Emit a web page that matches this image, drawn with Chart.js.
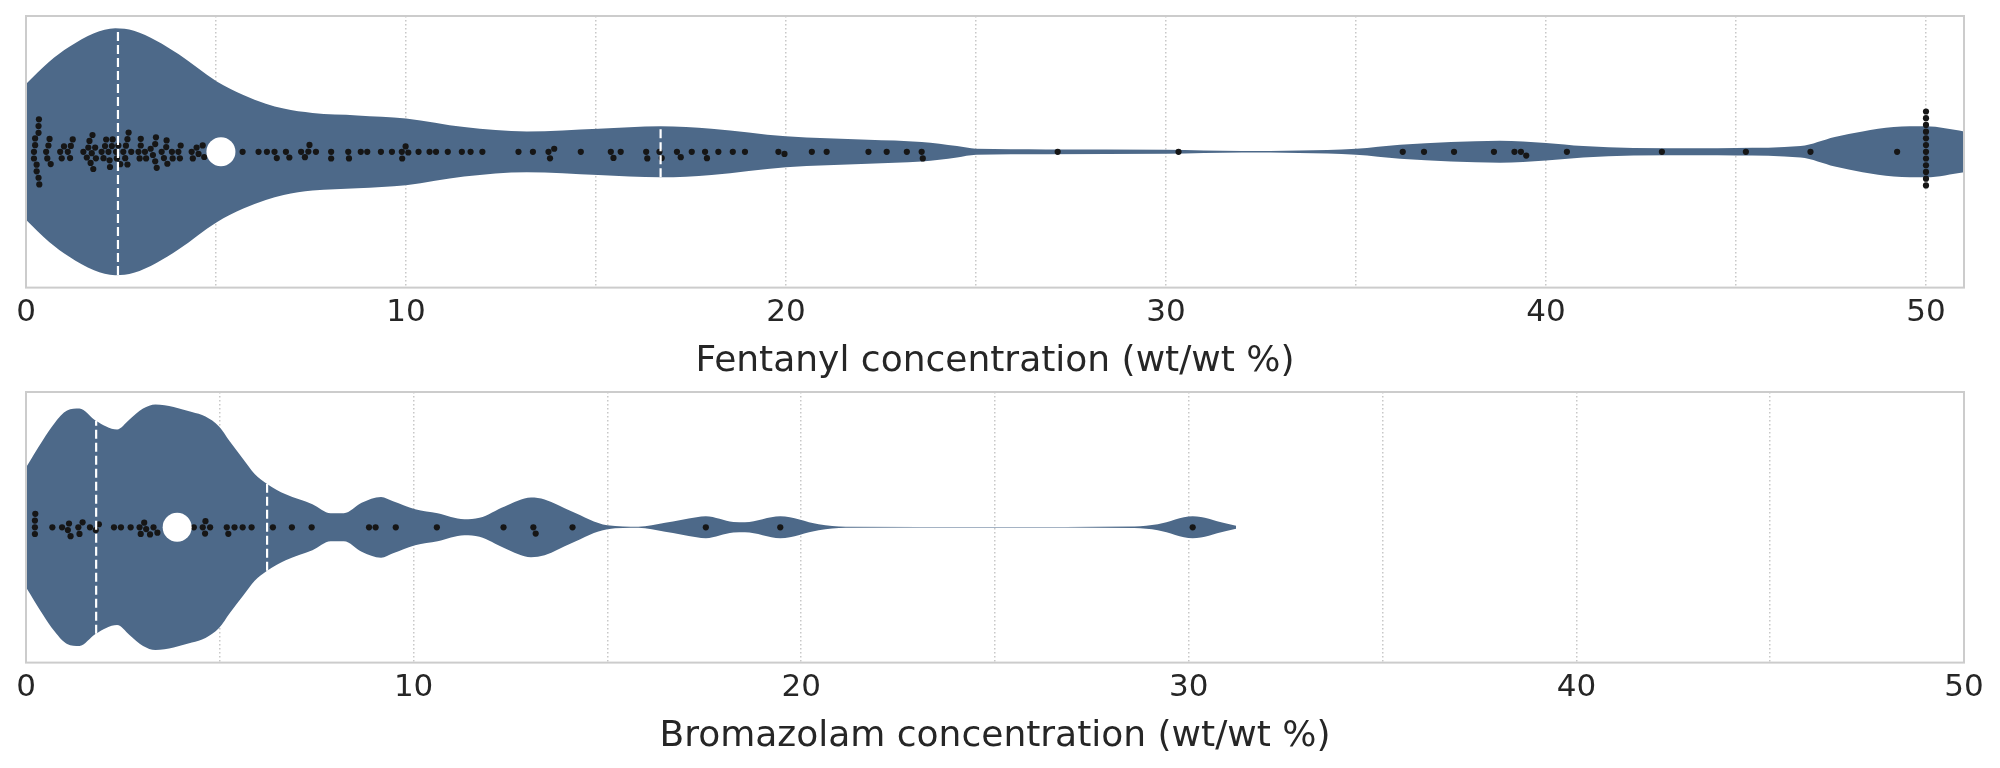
<!DOCTYPE html>
<html>
<head>
<meta charset="utf-8">
<script src="https://cdn.jsdelivr.net/npm/chart.js@4.4.1/dist/chart.umd.min.js"></script>
<style>
  html, body { margin: 0; padding: 0; background: #fff; }
  canvas { display: block; }
</style>
</head>
<body>
<canvas id="fentanylChart" width="2000" height="387"></canvas>
<canvas id="bromazolamChart" width="2000" height="375"></canvas>
<script>
// Axis ticks (grid every 5, labels every 10)
const gridTicks = [0, 5, 10, 15, 20, 25, 30, 35, 40, 45, 50];
const tickLabels = [0, 10, 20, 30, 40, 50];

// Fentanyl samples (wt/wt %)
const fentanylValues = [
    0.21, 0.21, 0.24, 0.24, 0.28, 0.28, 0.33, 0.33, 0.33, 0.34, 0.35,
    0.53, 0.56, 0.59, 0.62, 0.65,
    0.90, 0.94, 1.00, 1.10, 1.16, 1.18, 1.23,
    1.51, 1.60, 1.64, 1.67, 1.70, 1.73, 1.75, 1.77, 1.82, 1.84,
    1.99, 2.04, 2.08, 2.11, 2.17, 2.20, 2.21, 2.26, 2.28,
    2.37, 2.39, 2.43, 2.48, 2.56, 2.61, 2.63, 2.67, 2.67, 2.70, 2.77,
    2.96, 2.99, 3.02, 3.02, 3.13, 3.16, 3.28, 3.34, 3.40, 3.40, 3.42, 3.44,
    3.57, 3.63, 3.69, 3.70, 3.72, 3.84, 3.86, 4.01, 4.05, 4.07,
    4.36, 4.39, 4.49, 4.54, 4.65, 4.69,
    5.70, 6.12, 6.34, 6.54, 6.60, 6.84, 6.93, 7.24, 7.34, 7.43,
    7.46, 7.63, 8.03, 8.03, 8.48, 8.50, 8.81, 8.98, 9.34, 9.63,
    9.89, 9.90, 9.99, 10.06, 10.33, 10.62, 10.79, 11.10, 11.47, 11.70,
    12.01, 12.96, 13.34, 13.75, 13.79, 13.90, 14.60, 15.39, 15.46, 15.65,
    16.32, 16.35, 16.67, 16.73, 17.13, 17.23, 17.52, 17.87, 17.92, 18.22,
    18.60, 18.92, 19.80, 19.96, 20.68, 21.07, 22.17, 22.65, 23.18, 23.57,
    23.60, 27.15, 30.33, 36.23, 36.79, 37.58, 38.63, 39.17, 39.34, 39.48,
    40.55, 43.05, 45.26, 46.96, 49.24,
    50, 50, 50, 50, 50, 50, 50, 50, 50, 50, 50, 50
];
// violin outline: position and half width
const fentanylViolinX = [0, 0.61, 1.14, 1.79, 2.35, 2.84, 3.43, 4.02, 5.02, 5.72, 6.31, 6.78, 7.54, 8.72, 10.0,
    11.53, 13.18, 15.06, 16.7, 18.04, 20.0, 22.16, 23.57, 24.5, 25.0, 26.84, 30.0, 32.0, 33.5, 35.0,
    36.16, 37.5, 38.79, 40.0, 40.98, 42.3, 44.05, 45.0, 46.7, 47.6, 48.33, 49.15, 50.0, 51.0, 52.0];
const fentanylViolinWidth = [0.55, 0.73, 0.85, 0.96, 1.0, 0.98, 0.90, 0.79, 0.57, 0.46, 0.39, 0.35, 0.314, 0.295, 0.27,
    0.20, 0.165, 0.187, 0.206, 0.187, 0.125, 0.097, 0.079, 0.046, 0.024, 0.019, 0.016, 0.006, 0.01, 0.024,
    0.057, 0.079, 0.089, 0.071, 0.046, 0.03, 0.028, 0.03, 0.046, 0.119, 0.165, 0.20, 0.206, 0.165, 0.10];
const fentanylQuartiles = [2.42, 16.7];
const fentanylMedian = 5.13;

// Bromazolam samples (wt/wt %)
const bromazolamValues = [
    0.23, 0.23, 0.23, 0.24, 0.68, 0.93, 1.08, 1.11, 1.15, 1.35, 1.38, 1.46,
    1.65, 1.80, 1.88, 2.27, 2.45, 2.70, 2.93, 2.96, 3.05, 3.10, 3.20, 3.29, 3.39,
    4.33, 4.56, 4.63, 4.62, 4.75, 5.18, 5.22, 5.38, 5.59, 5.82, 6.37, 6.86, 7.37,
    8.85, 9.02, 9.54, 10.60, 12.32, 13.09, 13.15, 14.10, 17.54, 19.46, 30.10
];
const bromazolamViolinX = [0, 0.43, 0.74, 1.06, 1.38, 1.79, 2.35, 2.67, 3.02, 3.34, 4.28, 4.63, 4.98, 5.26, 5.61,
    5.9, 6.22, 6.7, 7.39, 7.86, 8.2, 8.66, 9.16, 9.47, 10.04, 10.62, 11.31, 11.7, 12.35, 13.03,
    13.38, 14.07, 15.0, 15.8, 16.49, 17.3, 17.54, 18.25, 18.55, 19.46, 20.45, 21.15, 25.0, 28.6, 29.2,
    30.1, 30.94, 31.22];
const bromazolamViolinWidth = [0.487, 0.706, 0.848, 0.949, 0.965, 0.868, 0.795, 0.876, 0.965, 0.998, 0.937, 0.90, 0.819, 0.697, 0.552,
    0.434, 0.353, 0.268, 0.187, 0.114, 0.114, 0.199, 0.247, 0.211, 0.146, 0.114, 0.065, 0.077, 0.17, 0.243,
    0.227, 0.13, 0.016, 0.004, 0.036, 0.081, 0.089, 0.043, 0.041, 0.089, 0.024, 0.004, 0.002, 0.006, 0.024,
    0.089, 0.032, 0.012];
const bromazolamQuartiles = [1.81, 6.22];
const bromazolamMedian = 3.9;

const violinColor = "#4d6989";
const textColor = "#262626";

// box around the plot area, drawn over the violin like matplotlib spines
const framePlugin = {
    id: "frame",
    afterDatasetsDraw(chart) {
        const { ctx, chartArea: a } = chart;
        ctx.save();
        ctx.strokeStyle = "#cccccc";
        ctx.lineWidth = 2;
        ctx.strokeRect(a.left, a.top, a.right - a.left, a.bottom - a.top);
        ctx.restore();
    },
};

function widthAt(xs, ws, v) {
    for (let i = 1; i < xs.length; i++) {
        if (v <= xs[i]) {
            const t = (v - xs[i - 1]) / (xs[i] - xs[i - 1]);
            return ws[i - 1] + t * (ws[i] - ws[i - 1]);
        }
    }
    return ws[ws.length - 1];
}

// seaborn-like beeswarm: each point goes as close to the middle as it can
function placeSwarm(chart, values, d) {
    const xs = chart.scales.x, ys = chart.scales.y;
    const unit = ys.getPixelForValue(0) - ys.getPixelForValue(1);
    const pts = values.map(v => ({ v, p: xs.getPixelForValue(v) })).sort((a, b) => a.p - b.p);
    const placed = [];
    pts.forEach(pt => {
        const nbrs = [];
        for (let j = placed.length - 1; j >= 0; j--) {
            if (pt.p - placed[j].p < d) nbrs.push(placed[j]);
            else break;
        }
        const cands = [0];
        let leftFirst = true;
        nbrs.forEach(n => {
            const dp = pt.p - n.p;
            const off = Math.sqrt(Math.max(d * d - dp * dp, 0)) * 1.05;
            if (leftFirst) cands.push(n.o - off, n.o + off);
            else cands.push(n.o + off, n.o - off);
            leftFirst = !leftFirst;
        });
        const sorted = cands.map((c, i) => ({ c, i }))
            .sort((a, b) => Math.abs(a.c) - Math.abs(b.c) || a.i - b.i);
        let o = 0;
        for (const { c } of sorted) {
            if (nbrs.every(n => (pt.p - n.p) ** 2 + (c - n.o) ** 2 >= d * d - 1e-6)) {
                o = c;
                break;
            }
        }
        placed.push({ p: pt.p, v: pt.v, o });
    });
    return placed.map(q => ({ x: q.v, y: q.o / unit }));
}

function violinChart(canvasId, cfg) {
    const upper = cfg.violinX.map((x, i) => ({ x, y: cfg.violinWidth[i] }));
    const lower = cfg.violinX.map((x, i) => ({ x, y: -cfg.violinWidth[i] }));
    const quartileSets = cfg.quartiles.map(q => {
        const w = widthAt(cfg.violinX, cfg.violinWidth, q);
        return {
            type: "line",
            data: [{ x: q, y: -w }, { x: q, y: w }],
            borderColor: "#ffffff",
            borderWidth: 2.2,
            borderDash: [9, 4],
            pointRadius: 0,
            order: 1,
        };
    });

    const chart = new Chart(document.getElementById(canvasId), {
        type: "scatter",
        data: {
            datasets: [
                {
                    type: "line",
                    data: upper,
                    borderWidth: 0,
                    pointRadius: 0,
                    cubicInterpolationMode: "monotone",
                    backgroundColor: violinColor,
                    fill: "+1",
                    order: 5,
                },
                {
                    type: "line",
                    data: lower,
                    borderWidth: 0,
                    pointRadius: 0,
                    cubicInterpolationMode: "monotone",
                    backgroundColor: violinColor,
                    fill: false,
                    order: 4,
                },
                {
                    data: cfg.values.map(v => ({ x: v, y: 0 })),
                    pointRadius: 3.1,
                    pointBorderWidth: 0,
                    pointBackgroundColor: "#161616",
                    order: 2,
                },
                ...quartileSets,
                {
                    data: [{ x: cfg.median, y: 0 }],
                    pointRadius: 14.5,
                    pointBorderWidth: 0,
                    pointBackgroundColor: "#ffffff",
                    order: 0,
                },
            ],
        },
        options: {
            responsive: false,
            animation: false,
            events: [],
            layout: {
                autoPadding: false,
                padding: { left: 26, right: 36, top: cfg.padTop, bottom: 0 },
            },
            plugins: { legend: { display: false }, tooltip: { enabled: false } },
            scales: {
                x: {
                    type: "linear",
                    min: 0,
                    max: cfg.xMax,
                    afterBuildTicks: s => { s.ticks = gridTicks.map(v => ({ value: v })); },
                    ticks: {
                        padding: 7,
                        autoSkip: false,
                        maxRotation: 0,
                        color: textColor,
                        font: { family: "DejaVu Sans", size: 31 },
                        callback: v => (tickLabels.includes(v) ? String(v) : ""),
                    },
                    grid: { color: "#c8c8c8", lineWidth: 1.5, drawTicks: false },
                    border: { display: false, dash: [1.5, 2.5] },
                    title: {
                        display: true,
                        text: cfg.title,
                        color: textColor,
                        font: { family: "DejaVu Sans", size: 36 },
                        padding: { top: 1, bottom: 4 },
                    },
                },
                y: { type: "linear", min: -1.1, max: 1.1, display: false },
            },
        },
        plugins: [framePlugin],
    });

    chart.data.datasets[2].data = placeSwarm(chart, cfg.values, 6.4);
    chart.update("none");
    return chart;
}

const fentanylChart = violinChart("fentanylChart", {
    values: fentanylValues,
    violinX: fentanylViolinX,
    violinWidth: fentanylViolinWidth,
    quartiles: fentanylQuartiles,
    median: fentanylMedian,
    xMax: 51,
    padTop: 16,
    title: "Fentanyl concentration (wt/wt %)",
});

const bromazolamChart = violinChart("bromazolamChart", {
    values: bromazolamValues,
    violinX: bromazolamViolinX,
    violinWidth: bromazolamViolinWidth,
    quartiles: bromazolamQuartiles,
    median: bromazolamMedian,
    xMax: 50,
    padTop: 5,
    title: "Bromazolam concentration (wt/wt %)",
});
</script>
</body>
</html>
